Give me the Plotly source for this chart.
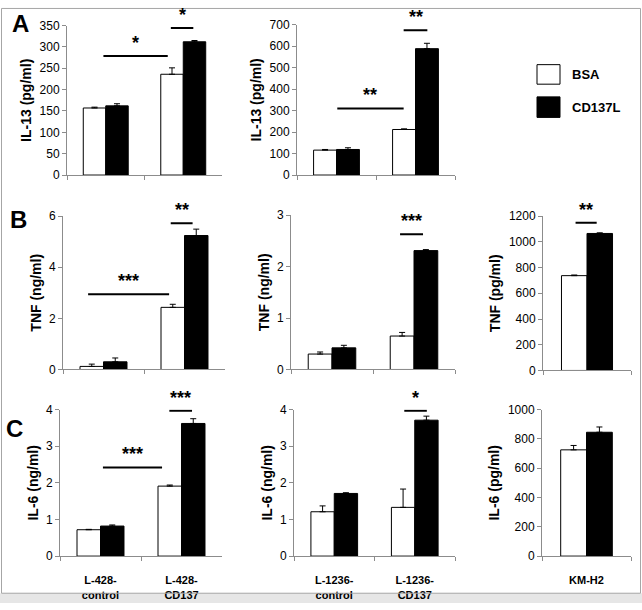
import plotly.graph_objects as go

W, H = 642, 610

# ---------------- data ----------------
cats_l428 = ["L-428-<br>control", "L-428-<br>CD137"]
cats_l1236 = ["L-1236-<br>control", "L-1236-<br>CD137"]
cats_kmh2 = ["KM-H2"]

il13_l428_bsa = [157, 236]
il13_l428_bsa_err = [2, 15]
il13_l428_cd = [162, 312]
il13_l428_cd_err = [5, 3]

il13_l1236_bsa = [116, 212]
il13_l1236_bsa_err = [3, 3]
il13_l1236_cd = [119, 588]
il13_l1236_cd_err = [8, 25]

tnf_l428_bsa = [0.12, 2.43]
tnf_l428_bsa_err = [0.09, 0.12]
tnf_l428_cd = [0.30, 5.24]
tnf_l428_cd_err = [0.15, 0.25]

tnf_l1236_bsa = [0.30, 0.65]
tnf_l1236_bsa_err = [0.04, 0.07]
tnf_l1236_cd = [0.42, 2.31]
tnf_l1236_cd_err = [0.05, 0.02]

tnf_kmh2_bsa = [737]
tnf_kmh2_bsa_err = [5]
tnf_kmh2_cd = [1065]
tnf_kmh2_cd_err = [5]

il6_l428_bsa = [0.72, 1.91]
il6_l428_bsa_err = [0.01, 0.03]
il6_l428_cd = [0.82, 3.62]
il6_l428_cd_err = [0.03, 0.13]

il6_l1236_bsa = [1.21, 1.33]
il6_l1236_bsa_err = [0.16, 0.5]
il6_l1236_cd = [1.71, 3.71]
il6_l1236_cd_err = [0.02, 0.11]

il6_kmh2_bsa = [725]
il6_kmh2_bsa_err = [30]
il6_kmh2_cd = [845]
il6_kmh2_cd_err = [36]

series_names = ["BSA", "CD137L"]
panel_letters = ["A", "B", "C"]

# significance brackets: (x0, x1, y, label) in data units of each panel
sig_a1 = [(-0.03, 0.80, 279, "*"), (0.84, 1.13, 344, "*")]
sig_a2 = [(0.01, 0.85, 310, "**"), (0.85, 1.15, 674, "**")]
sig_b1 = [(-0.19, 0.81, 2.94, "***"), (0.83, 1.10, 5.72, "**")]
sig_b2 = [(0.83, 1.11, 2.63, "***")]
sig_b3 = [(-0.13, 0.11, 1149, "**")]
sig_c1 = [(0.03, 0.76, 2.42, "***"), (0.85, 1.13, 3.97, "***")]
sig_c2 = [(0.87, 1.15, 3.97, "*")]
sig_c3 = []

# ---------------- layout geometry (pixels) ----------------
panels = [
    (cats_l428, il13_l428_bsa, il13_l428_bsa_err, il13_l428_cd, il13_l428_cd_err,
     "IL-13 (pg/ml)", 350, 50, (67, 222), (19, 172), False, sig_a1),
    (cats_l1236, il13_l1236_bsa, il13_l1236_bsa_err, il13_l1236_cd, il13_l1236_cd_err,
     "IL-13 (pg/ml)", 700, 100, (297, 455), (18, 172), False, sig_a2),
    (cats_l428, tnf_l428_bsa, tnf_l428_bsa_err, tnf_l428_cd, tnf_l428_cd_err,
     "TNF (ng/ml)", 6, 2, (63, 225), (214, 371), False, sig_b1),
    (cats_l1236, tnf_l1236_bsa, tnf_l1236_bsa_err, tnf_l1236_cd, tnf_l1236_cd_err,
     "TNF (ng/ml)", 3, 1, (291, 455), (213, 371), False, sig_b2),
    (cats_kmh2, tnf_kmh2_bsa, tnf_kmh2_bsa_err, tnf_kmh2_cd, tnf_kmh2_cd_err,
     "TNF (pg/ml)", 1200, 200, (543, 631), (214, 372), False, sig_b3),
    (cats_l428, il6_l428_bsa, il6_l428_bsa_err, il6_l428_cd, il6_l428_cd_err,
     "IL-6 (ng/ml)", 4, 1, (60, 222), (412, 562), True, sig_c1),
    (cats_l1236, il6_l1236_bsa, il6_l1236_bsa_err, il6_l1236_cd, il6_l1236_cd_err,
     "IL-6 (ng/ml)", 4, 1, (294, 455), (412, 562), True, sig_c2),
    (cats_kmh2, il6_kmh2_bsa, il6_kmh2_bsa_err, il6_kmh2_cd, il6_kmh2_cd_err,
     "IL-6 (pg/ml)", 1000, 200, (542, 631), (412, 562), True, sig_c3),
]

FONT = "Arial, Liberation Sans, sans-serif"
AXC = "#8c8c8c"

fig = go.Figure()
layout = {}
shapes = []
annotations = []

for i, (cats, bsa, bsa_e, cd, cd_e, title, ymax, dtick, xpx, ypx, showlab, sig) in enumerate(panels):
    n = i + 1
    xa = "x" if n == 1 else f"x{n}"
    ya = "y" if n == 1 else f"y{n}"
    for name, vals, errs, col in ((series_names[0], bsa, bsa_e, "white"),
                                  (series_names[1], cd, cd_e, "black")):
        fig.add_trace(go.Bar(
            x=cats, y=vals, name=name, xaxis=xa, yaxis=ya, showlegend=False,
            marker=dict(color=col, line=dict(color="black", width=1)),
            error_y=dict(type="data", array=errs, arrayminus=[0] * len(errs),
                         symmetric=False, color="black", thickness=1, width=3),
        ))
    xkey = "xaxis" if n == 1 else f"xaxis{n}"
    ykey = "yaxis" if n == 1 else f"yaxis{n}"
    layout[xkey] = dict(
        domain=[xpx[0] / W, xpx[1] / W], anchor=ya, type="category",
        range=[-0.5, len(cats) - 0.5], tickson="boundaries", ticks="outside",
        ticklen=4, tickcolor=AXC, showline=True, linecolor=AXC, linewidth=1,
        showgrid=False, zeroline=False, showticklabels=showlab,
        ticklabelstandoff=14,
        tickfont=dict(family=FONT, size=11, color="black", weight="bold"),
    )
    layout[ykey] = dict(
        domain=[1 - ypx[1] / H, 1 - ypx[0] / H], anchor=xa,
        range=[0, ymax], dtick=dtick, tick0=0, ticks="outside", ticklen=4,
        tickcolor=AXC, showline=True, linecolor=AXC, linewidth=1,
        showgrid=False, zeroline=False,
        tickfont=dict(family=FONT, size=12, color="black"),
        title=dict(text=title, standoff=4,
                   font=dict(family=FONT, size=14, color="black", weight="bold")),
    )
    for (x0, x1, yv, lab) in sig:
        shapes.append(dict(type="line", xref=xa, yref=ya, x0=x0, x1=x1, y0=yv, y1=yv,
                           line=dict(color="black", width=2)))
        annotations.append(dict(xref=xa, yref=ya, x=(x0 + x1) / 2, y=yv, text=lab,
                                showarrow=False, yanchor="bottom", yshift=1,
                                font=dict(family=FONT, size=18, color="black", weight="bold")))

# panel letters
for letter, (px, py) in zip(panel_letters, [(21, 17), (18, 217), (14, 431)]):
    annotations.append(dict(xref="paper", yref="paper", x=px / W, y=1 - py / H, text=letter,
                            showarrow=False, xanchor="center", yanchor="middle",
                            font=dict(family=FONT, size=24, color="black", weight="bold")))

# legend (drawn)
for name, col, (y0, y1) in zip(series_names, ["white", "black"], [(59, 79), (92, 113)]):
    shapes.append(dict(type="rect", xref="paper", yref="paper",
                       x0=537 / W, x1=560 / W, y0=1 - y1 / H, y1=1 - y0 / H,
                       fillcolor=col, line=dict(color="black", width=1)))
    annotations.append(dict(xref="paper", yref="paper", x=570 / W, y=1 - (y0 + y1) / 2 / H,
                            text=name, showarrow=False, xanchor="left", yanchor="middle",
                            font=dict(family=FONT, size=13, color="black", weight="bold")))

# frame
shapes.append(dict(type="rect", xref="paper", yref="paper", x0=0, x1=1, y0=0, y1=10 / H,
                   fillcolor="#e6e6e6", line=dict(width=0), layer="below"))
shapes.append(dict(type="rect", xref="paper", yref="paper", x0=1.5 / W, x1=1 - 1.5 / W,
                   y0=10 / H, y1=1 - 1.5 / H, line=dict(color="#a6a6a6", width=1)))

fig.update_layout(
    width=W, height=H, margin=dict(l=0, r=0, t=0, b=0),
    paper_bgcolor="white", plot_bgcolor="white",
    barmode="group", bargap=0.42, bargroupgap=0,
    shapes=shapes, annotations=annotations,
    font=dict(family=FONT, color="black"),
    **layout,
)

fig.write_html(
    "out.html",
    config={"displayModeBar": False},
    post_script=(
        "var s=document.createElement('style');"
        "s.textContent='html,body{margin:0!important;padding:0!important;"
        "overflow:hidden!important;width:642px;height:610px;}';"
        "document.head.appendChild(s);"
    ),
)
